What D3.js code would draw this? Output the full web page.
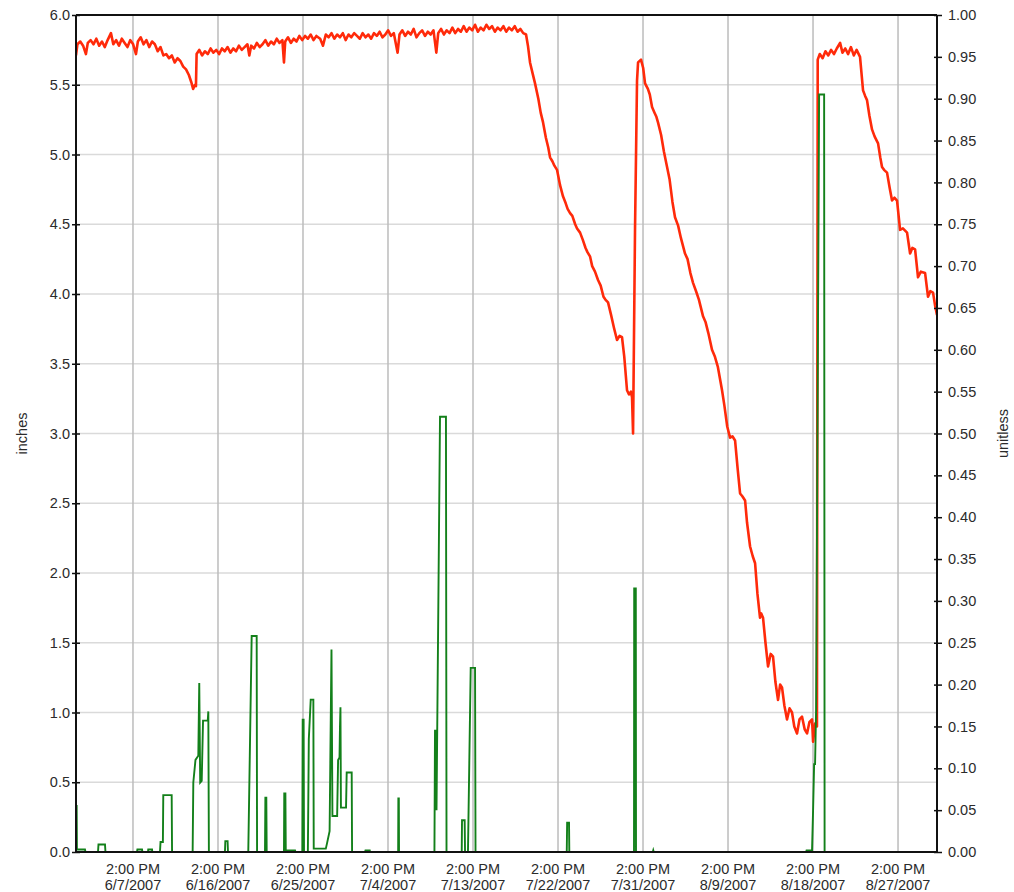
<!DOCTYPE html>
<html>
<head>
<meta charset="utf-8">
<script src="https://cdn.jsdelivr.net/npm/d3@7"></script>
<style>
  html, body { margin: 0; padding: 0; background: #fff; }
  svg text { font-family: "Liberation Sans", Arial, sans-serif; font-size: 14.5px; fill: #2b2b2b; }
</style>
</head>
<body>
<svg id="chart" width="1014" height="892"></svg>
<script>
// Record starts at 2007-06-01 00:00 UTC; readings are given as fractional days since then.
const recordStart = Date.UTC(2007, 5, 1);
const recordSpan = [0.55, 91.71];

// Bottom axis tick times (every 9 days at 2:00 PM)
const timeTicks = [
  "2007-06-07T14:00", "2007-06-16T14:00", "2007-06-25T14:00", "2007-07-04T14:00",
  "2007-07-13T14:00", "2007-07-22T14:00", "2007-07-31T14:00", "2007-08-09T14:00",
  "2007-08-18T14:00", "2007-08-27T14:00"
];

// Left axis (inches) and right axis (unitless) tick values
const inchTicks = [0, 0.5, 1, 1.5, 2, 2.5, 3, 3.5, 4, 4.5, 5, 5.5, 6];
const unitlessTicks = [0, 0.05, 0.1, 0.15, 0.2, 0.25, 0.3, 0.35, 0.4, 0.45, 0.5,
                       0.55, 0.6, 0.65, 0.7, 0.75, 0.8, 0.85, 0.9, 0.95, 1];

// Red series: [day, inches]
const inchReadings = [
  [0.55, 5.71], [0.7, 5.79], [1.0, 5.81], [1.3, 5.78], [1.6, 5.72], [1.8, 5.80], [2.1, 5.82],
  [2.4, 5.79], [2.7, 5.83], [3.0, 5.78], [3.3, 5.81], [3.6, 5.77], [3.9, 5.82], [4.25, 5.87],
  [4.5, 5.79], [4.8, 5.82], [5.1, 5.78], [5.4, 5.83], [5.7, 5.80], [6.0, 5.77], [6.3, 5.82],
  [6.6, 5.79], [6.9, 5.72], [7.1, 5.81], [7.4, 5.84], [7.7, 5.79], [8.0, 5.82], [8.3, 5.77],
  [8.6, 5.81], [8.9, 5.79], [9.2, 5.74], [9.5, 5.77], [9.8, 5.71], [10.1, 5.72], [10.4, 5.69],
  [10.7, 5.71], [11.0, 5.66], [11.3, 5.69], [11.6, 5.67], [11.9, 5.63], [12.2, 5.61], [12.5, 5.57],
  [12.75, 5.52], [12.95, 5.47], [13.15, 5.50], [13.25, 5.49], [13.32, 5.72], [13.6, 5.75],
  [13.9, 5.71], [14.2, 5.74], [14.5, 5.72], [14.8, 5.76], [15.1, 5.73], [15.4, 5.75], [15.7, 5.72],
  [16.0, 5.76], [16.3, 5.74], [16.6, 5.77], [16.9, 5.73], [17.2, 5.76], [17.5, 5.74], [17.8, 5.78],
  [18.1, 5.75], [18.4, 5.77], [18.7, 5.79], [18.9, 5.71], [19.1, 5.78], [19.4, 5.76], [19.7, 5.80],
  [20.0, 5.77], [20.3, 5.79], [20.6, 5.82], [20.9, 5.78], [21.2, 5.81], [21.5, 5.79], [21.8, 5.83],
  [22.1, 5.80], [22.4, 5.82], [22.57, 5.66], [22.7, 5.81], [23.0, 5.84], [23.3, 5.80], [23.6, 5.83],
  [23.9, 5.81], [24.2, 5.85], [24.5, 5.82], [24.8, 5.85], [25.1, 5.83], [25.4, 5.86], [25.7, 5.82],
  [26.0, 5.85], [26.4, 5.83], [26.7, 5.78], [27.0, 5.86], [27.3, 5.84], [27.6, 5.87], [27.9, 5.83],
  [28.2, 5.86], [28.5, 5.84], [28.8, 5.87], [29.1, 5.82], [29.4, 5.86], [29.7, 5.84], [30.0, 5.87],
  [30.3, 5.85], [30.6, 5.83], [30.9, 5.87], [31.2, 5.84], [31.5, 5.86], [31.8, 5.83], [32.1, 5.87],
  [32.4, 5.85], [32.7, 5.88], [33.0, 5.84], [33.3, 5.86], [33.6, 5.89], [33.9, 5.85], [34.2, 5.87],
  [34.6, 5.73], [34.8, 5.86], [35.1, 5.89], [35.4, 5.85], [35.7, 5.88], [36.0, 5.86], [36.3, 5.90],
  [36.6, 5.84], [36.9, 5.87], [37.2, 5.89], [37.5, 5.85], [37.8, 5.88], [38.1, 5.86], [38.4, 5.89],
  [38.7, 5.73], [38.9, 5.87], [39.2, 5.90], [39.5, 5.86], [39.8, 5.89], [40.1, 5.87], [40.4, 5.91],
  [40.7, 5.87], [41.0, 5.90], [41.3, 5.88], [41.6, 5.92], [41.9, 5.88], [42.2, 5.91], [42.5, 5.89],
  [42.8, 5.93], [43.1, 5.88], [43.4, 5.91], [43.7, 5.89], [44.0, 5.93], [44.3, 5.90], [44.6, 5.92],
  [44.9, 5.88], [45.2, 5.91], [45.5, 5.89], [45.8, 5.92], [46.1, 5.88], [46.4, 5.91], [46.7, 5.89],
  [47.0, 5.92], [47.3, 5.88], [47.6, 5.90], [47.9, 5.87], [48.2, 5.86],
  [48.4, 5.78], [48.62, 5.66], [48.9, 5.58], [49.15, 5.51], [49.5, 5.40], [49.75, 5.30], [50.0, 5.23],
  [50.3, 5.12], [50.55, 5.05], [50.74, 4.98], [51.0, 4.95], [51.2, 4.92], [51.48, 4.89], [51.8, 4.78],
  [52.11, 4.70], [52.4, 4.65], [52.6, 4.61], [52.86, 4.58], [53.1, 4.56], [53.4, 4.50], [53.6, 4.47],
  [53.92, 4.44], [54.2, 4.39], [54.5, 4.33], [54.7, 4.30], [54.97, 4.27], [55.2, 4.20], [55.5, 4.16],
  [55.82, 4.10], [56.1, 4.06], [56.4, 3.98], [56.6, 3.96], [56.88, 3.94], [57.2, 3.85], [57.5, 3.76],
  [57.83, 3.67], [58.1, 3.70], [58.36, 3.69], [58.6, 3.55], [58.89, 3.31], [59.1, 3.28], [59.3, 3.30],
  [59.42, 3.26], [59.53, 3.00], [59.74, 4.48], [59.95, 5.53], [60.06, 5.66], [60.37, 5.68],
  [60.6, 5.62], [60.8, 5.51], [61.1, 5.47], [61.3, 5.43], [61.54, 5.34], [61.8, 5.30], [62.0, 5.27],
  [62.17, 5.23], [62.5, 5.14], [62.8, 5.02], [63.13, 4.91], [63.4, 4.82], [63.7, 4.66], [63.97, 4.55],
  [64.3, 4.49], [64.6, 4.40], [65.03, 4.29], [65.3, 4.25], [65.6, 4.15], [65.88, 4.08], [66.2, 4.02],
  [66.5, 3.96], [66.94, 3.84], [67.2, 3.80], [67.5, 3.72], [67.89, 3.60], [68.2, 3.55], [68.5, 3.48],
  [68.95, 3.31], [69.2, 3.20], [69.5, 3.05], [69.8, 2.97], [70.05, 2.98], [70.33, 2.95], [70.6, 2.75],
  [70.86, 2.57], [71.1, 2.55], [71.39, 2.52], [71.6, 2.36], [71.92, 2.19], [72.2, 2.12], [72.45, 2.07],
  [72.7, 1.85], [72.97, 1.68], [73.1, 1.71], [73.29, 1.68], [73.55, 1.50], [73.82, 1.33], [74.1, 1.42],
  [74.35, 1.40], [74.6, 1.22], [74.88, 1.09], [75.1, 1.20], [75.3, 1.18], [75.55, 1.05], [75.83, 0.95],
  [76.1, 1.03], [76.36, 1.00], [76.6, 0.90], [76.89, 0.85], [77.15, 0.95], [77.42, 0.97], [77.7, 0.88],
  [77.95, 0.85], [78.2, 0.93], [78.48, 0.95], [78.59, 0.79], [78.8, 0.92], [79.0, 0.90], [79.08, 5.68],
  [79.3, 5.72], [79.6, 5.69], [79.9, 5.74], [80.2, 5.71], [80.5, 5.75], [80.8, 5.72], [81.1, 5.76],
  [81.45, 5.80], [81.7, 5.73], [82.0, 5.76], [82.3, 5.72], [82.6, 5.77], [82.9, 5.71], [83.2, 5.75],
  [83.56, 5.70], [83.88, 5.46], [84.1, 5.42], [84.3, 5.39], [84.55, 5.28], [84.83, 5.18], [85.1, 5.13],
  [85.47, 5.08], [85.7, 4.98], [85.89, 4.91], [86.1, 4.89], [86.42, 4.87], [86.7, 4.76], [86.95, 4.67],
  [87.2, 4.69], [87.48, 4.67], [87.8, 4.46], [88.1, 4.47], [88.54, 4.44], [88.86, 4.29], [89.1, 4.33],
  [89.39, 4.32], [89.7, 4.12], [90.0, 4.16], [90.45, 4.15], [90.76, 3.98], [91.0, 4.02], [91.29, 4.01],
  [91.5, 3.92], [91.71, 3.85]
];

// Green series: [day, unitless]
const unitlessReadings = [
  [0.55, 0.055], [0.62, 0.055], [0.65, 0.003], [1.50, 0.003], [1.55, 0],
  [2.88, 0], [2.93, 0.009], [3.62, 0.009], [3.67, 0],
  [7.01, 0], [7.05, 0.003], [7.54, 0.003], [7.58, 0],
  [8.17, 0], [8.2, 0.003], [8.6, 0.003], [8.63, 0],
  [9.44, 0], [9.5, 0.012], [9.75, 0.012], [9.79, 0.068], [10.68, 0.068], [10.72, 0],
  [12.9, 0], [12.97, 0.083], [13.2, 0.11], [13.5, 0.115], [13.6, 0.202], [13.7, 0.083],
  [13.86, 0.085], [14.0, 0.157], [14.5, 0.157], [14.56, 0.168], [14.62, 0],
  [16.32, 0], [16.36, 0.013], [16.6, 0.013], [16.64, 0],
  [18.79, 0], [19.15, 0.258], [19.68, 0.258], [19.72, 0],
  [20.56, 0], [20.6, 0.065], [20.7, 0.065], [20.74, 0],
  [22.57, 0], [22.6, 0.07], [22.72, 0.07], [22.76, 0.002], [23.74, 0.002], [23.78, 0],
  [24.51, 0], [24.55, 0.158], [24.65, 0.158], [24.69, 0],
  [25.1, 0], [25.2, 0.135], [25.4, 0.182], [25.68, 0.182], [25.72, 0.004], [27.0, 0.004],
  [27.12, 0.01], [27.4, 0.025], [27.6, 0.242], [27.7, 0.043], [28.2, 0.043], [28.3, 0.11],
  [28.45, 0.113], [28.5, 0.15], [28.55, 0.173], [28.6, 0.053], [29.14, 0.053], [29.21, 0.095],
  [29.74, 0.095], [29.78, 0],
  [31.15, 0], [31.2, 0.002], [31.65, 0.002], [31.68, 0],
  [34.66, 0], [34.68, 0.064], [34.73, 0.064], [34.75, 0],
  [38.5, 0], [38.56, 0.145], [38.68, 0.145], [38.72, 0.05], [39.09, 0.52], [39.72, 0.52], [39.78, 0],
  [41.39, 0], [41.42, 0.038], [41.7, 0.038], [41.74, 0],
  [42.05, 0], [42.34, 0.22], [42.8, 0.22], [42.85, 0],
  [52.51, 0], [52.55, 0.035], [52.75, 0.035], [52.78, 0],
  [59.63, 0], [59.65, 0.315], [59.82, 0.315], [59.84, 0],
  [61.62, 0], [61.67, 0.002], [61.72, 0],
  [77.85, 0], [77.9, 0.002], [78.48, 0.002], [78.59, 0.05], [78.7, 0.105], [78.8, 0.105],
  [78.91, 0.17], [79.23, 0.905], [79.76, 0.905], [79.81, 0],
  [91.71, 0]
];

// ---- layout ----
const plot = { left: 76, right: 937, top: 15, bottom: 852 };
const svg = d3.select("#chart");
const dayToDate = d => new Date(recordStart + d * 86400000);

const x = d3.scaleUtc()
  .domain(recordSpan.map(dayToDate))
  .range([plot.left, plot.right]);
const yInches = d3.scaleLinear().domain([0, 6]).range([plot.bottom, plot.top]);
const yUnitless = d3.scaleLinear().domain([0, 1]).range([plot.bottom, plot.top]);

const tickDates = timeTicks.map(d3.utcParse("%Y-%m-%dT%H:%M"));

// ---- grid ----
const grid = svg.append("g");
grid.selectAll("line.h").data(inchTicks).join("line")
  .attr("class", "h")
  .attr("x1", plot.left).attr("x2", plot.right)
  .attr("y1", d => yInches(d)).attr("y2", d => yInches(d))
  .attr("stroke", "#dadada").attr("stroke-width", 1.5);
grid.selectAll("line.v").data(tickDates).join("line")
  .attr("class", "v")
  .attr("x1", d => x(d)).attr("x2", d => x(d))
  .attr("y1", plot.top).attr("y2", plot.bottom)
  .attr("stroke", "#bcbcbc").attr("stroke-width", 1.5);

// ---- series ----
svg.append("clipPath").attr("id", "plotClip")
  .append("rect")
  .attr("x", plot.left).attr("y", plot.top - 2)
  .attr("width", plot.right - plot.left).attr("height", plot.bottom - plot.top + 2);

const series = svg.append("g").attr("clip-path", "url(#plotClip)");

const inchLine = d3.line()
  .x(d => x(dayToDate(d[0])))
  .y(d => yInches(d[1]));
const unitlessLine = d3.line()
  .x(d => x(dayToDate(d[0])))
  .y(d => yUnitless(d[1]));

series.append("path")
  .datum(inchReadings)
  .attr("d", inchLine)
  .attr("fill", "none")
  .attr("stroke", "#ff2a0a")
  .attr("stroke-width", 2.6)
  .attr("stroke-linejoin", "round");

series.append("path")
  .datum(unitlessReadings)
  .attr("d", unitlessLine)
  .attr("fill", "none")
  .attr("stroke", "#13801a")
  .attr("stroke-width", 1.9)
  .attr("stroke-linejoin", "miter");

// ---- axes ----
const frame = svg.append("g").attr("stroke", "#111").attr("stroke-width", 2);
frame.append("line").attr("x1", plot.left).attr("x2", plot.right).attr("y1", plot.top).attr("y2", plot.top);
frame.append("line").attr("x1", plot.left).attr("x2", plot.right).attr("y1", plot.bottom).attr("y2", plot.bottom);
frame.append("line").attr("x1", plot.left).attr("x2", plot.left).attr("y1", plot.top).attr("y2", plot.bottom);
frame.append("line").attr("x1", plot.right).attr("x2", plot.right).attr("y1", plot.top).attr("y2", plot.bottom);

const leftAxis = svg.append("g")
  .attr("transform", `translate(${plot.left},0)`)
  .call(d3.axisLeft(yInches).tickValues(inchTicks).tickFormat(d3.format(".1f")).tickSize(4).tickPadding(2));
leftAxis.select(".domain").remove();
leftAxis.selectAll(".tick line").attr("x1", 4).attr("x2", -4).attr("stroke", "#111").attr("stroke-width", 1.5);
leftAxis.selectAll(".tick text").attr("x", -6).attr("font-size", null).attr("font-family", null);

const rightAxis = svg.append("g")
  .attr("transform", `translate(${plot.right},0)`)
  .call(d3.axisRight(yUnitless).tickValues(unitlessTicks).tickFormat(d3.format(".2f")).tickSize(4));
rightAxis.select(".domain").remove();
rightAxis.selectAll(".tick line").attr("x1", -3).attr("x2", 5).attr("stroke", "#111").attr("stroke-width", 1.5);
rightAxis.selectAll(".tick text").attr("x", 11).attr("font-size", null).attr("font-family", null);

const timeFmt = d3.utcFormat("%-I:%M %p");
const dateFmt = d3.utcFormat("%-m/%-d/%Y");
const bottomLabels = svg.append("g").selectAll("text").data(tickDates).join("text")
  .attr("text-anchor", "middle")
  .attr("x", d => x(d));
bottomLabels.append("tspan").attr("x", d => x(d)).attr("y", 874).text(timeFmt);
bottomLabels.append("tspan").attr("x", d => x(d)).attr("y", 890).text(dateFmt);

svg.append("text")
  .attr("transform", `translate(27,${(plot.top + plot.bottom) / 2}) rotate(-90)`)
  .attr("text-anchor", "middle")
  .text("inches");
svg.append("text")
  .attr("transform", `translate(1008,${(plot.top + plot.bottom) / 2}) rotate(-90)`)
  .attr("text-anchor", "middle")
  .text("unitless");
</script>
</body>
</html>
